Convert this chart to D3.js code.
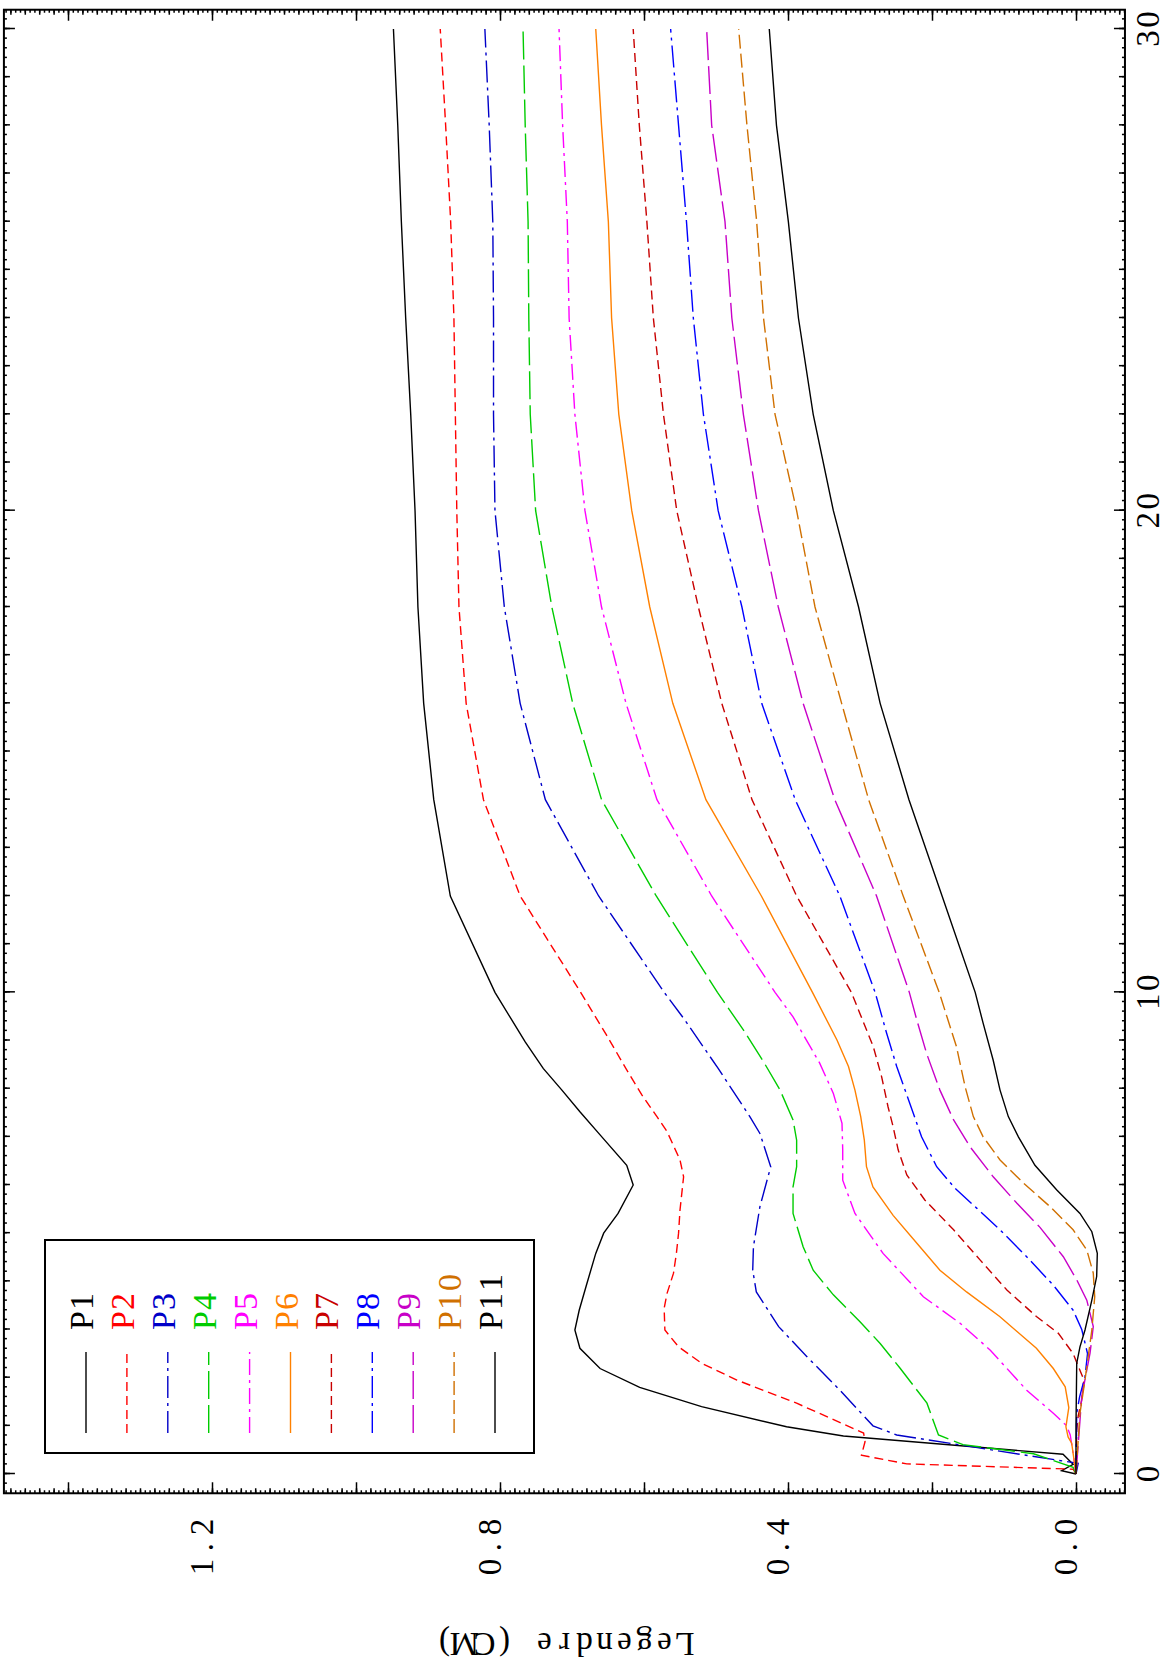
<!DOCTYPE html>
<html>
<head>
<meta charset="utf-8">
<script src="https://cdnjs.cloudflare.com/ajax/libs/d3/7.8.5/d3.min.js"></script>
<style>
body { margin: 0; background: #fff; }
text { font-family: "Liberation Serif", "DejaVu Serif", serif; }
</style>
</head>
<body>
<div id="main"></div>
<script>

var names = ["P1","P2","P3","P4","P5","P6","P7","P8","P9","P10","P11"];
var colors = ["#000000","#ff0000","#0000c8","#00cc00","#ff00ff","#ff8000","#c80000","#0000ff","#c800c8","#d07000","#000000"];
var dashes = [null,"9,5","22,5,3,5","28,6","16,5,3,5",null,"9,5","22,5,3,5","28,6","14,5",null];

var xTicks = [0,10,20,30];
var yTicks = [0.0,0.4,0.8,1.2];
var yTickLabels = ["0.0","0.4","0.8","1.2"];
var yTitle = "Legendre (CM)";

// [x, value] pairs
var p1 = [[0,0],[0.07,0.02],[0.2,0.004],[0.41,0.018],[0.79,0.323],[0.98,0.402],[1.4,0.52],[1.8,0.606],[2.19,0.661],[2.61,0.689],[2.99,0.696],[3.4,0.69],[3.92,0.68],[4.58,0.667],[5.0,0.656],[5.41,0.636],[6.0,0.615],[6.41,0.624],[7.04,0.661],[7.52,0.689],[7.97,0.714],[8.42,0.74],[8.97,0.765],[10,0.807],[12,0.869],[14,0.892],[16,0.906],[18,0.914],[20,0.918],[22,0.924],[24,0.931],[26,0.937],[28,0.942],[30,0.948]];
var p2 = [[0,0],[0.1,0.004],[0.21,0.235],[0.39,0.298],[0.67,0.293],[0.85,0.295],[1.47,0.388],[1.95,0.471],[2.3,0.52],[2.64,0.552],[2.99,0.571],[3.44,0.572],[3.75,0.568],[4.17,0.559],[4.58,0.555],[5.0,0.552],[5.48,0.55],[6.17,0.545],[6.52,0.55],[7.11,0.568],[7.42,0.582],[7.87,0.603],[8.39,0.624],[9.11,0.652],[10,0.688],[12,0.772],[14,0.823],[16,0.847],[18,0.857],[20,0.86],[22,0.862],[24,0.864],[26,0.8685],[28,0.8755],[30,0.883]];
var p3 = [[0,0],[0.22,-0.003],[0.81,0.249],[1.0,0.282],[1.74,0.328],[2.44,0.374],[3.06,0.413],[3.78,0.444],[4.23,0.449],[4.72,0.448],[5.55,0.439],[6.38,0.424],[7.07,0.439],[7.42,0.453],[8.42,0.497],[9.42,0.543],[10,0.572],[12,0.663],[14,0.737],[16,0.772],[18,0.794],[20,0.807],[22,0.809],[24,0.809],[26,0.81],[28,0.815],[30,0.821]];
var p4 = [[0,0],[0.14,0.004],[0.42,0.059],[0.61,0.157],[0.81,0.191],[1.47,0.207],[2.19,0.244],[2.71,0.272],[3.16,0.3],[3.72,0.337],[4.23,0.365],[4.72,0.379],[5.41,0.393],[5.96,0.393],[6.38,0.388],[6.93,0.388],[7.35,0.393],[7.97,0.411],[8.56,0.434],[9.22,0.462],[10,0.498],[12,0.583],[14,0.659],[16,0.699],[18,0.728],[20,0.7505],[22,0.758],[24,0.76],[26,0.761],[28,0.765],[30,0.768]];
var p5 = [[0,0],[0.43,0.004],[0.81,0.008],[1.0,0.013],[1.26,0.0315],[1.74,0.0685],[2.57,0.119],[3.13,0.161],[3.68,0.212],[4.58,0.268],[5.41,0.307],[6.1,0.324],[6.73,0.324],[7.28,0.325],[7.9,0.337],[8.53,0.356],[9.49,0.393],[10,0.418],[12,0.506],[14,0.582],[16,0.625],[18,0.659],[20,0.682],[22,0.696],[24,0.704],[26,0.7065],[28,0.713],[30,0.718]];
var p6 = [[0,0],[0.43,0.004],[0.64,0.006],[0.77,0.011],[0.98,0.014],[1.38,0.01],[1.81,0.015],[2.19,0.0315],[2.61,0.055],[3.27,0.106],[3.78,0.152],[4.23,0.189],[4.79,0.221],[5.37,0.254],[5.96,0.282],[6.38,0.291],[6.93,0.294],[7.42,0.299],[7.97,0.307],[8.46,0.316],[9.01,0.332],[10,0.366],[12,0.437],[14,0.514],[16,0.56],[18,0.592],[20,0.617],[22,0.635],[24,0.645],[26,0.6495],[28,0.659],[30,0.667]];
var p7 = [[0,0],[0.9,-0.001],[1.2,-0.003],[1.54,-0.008],[1.95,-0.011],[2.5,0.004],[2.92,0.0245],[3.27,0.055],[3.82,0.096],[4.44,0.133],[5.07,0.17],[5.69,0.21],[6.21,0.235],[6.73,0.247],[7.21,0.254],[7.62,0.261],[8.25,0.27],[8.87,0.2815],[10,0.312],[12,0.388],[14,0.45],[16,0.492],[18,0.5245],[20,0.5545],[22,0.573],[24,0.587],[26,0.596],[28,0.6065],[30,0.615]];
var p8 = [[0,0],[1.26,-0.001],[1.6,-0.005],[2.02,-0.0125],[2.5,-0.016],[3.0,-0.008],[3.4,0.004],[3.92,0.0315],[4.51,0.0685],[5.07,0.1055],[5.52,0.138],[5.93,0.168],[6.38,0.1935],[7.0,0.2145],[7.49,0.226],[8.46,0.249],[9.15,0.263],[10,0.279],[12,0.328],[14,0.39],[16,0.4365],[18,0.464],[20,0.497],[22,0.5175],[24,0.5315],[26,0.541],[28,0.552],[30,0.563]];
var p9 = [[0,0],[1.61,-0.008],[2.51,-0.0195],[3.06,-0.024],[3.61,-0.015],[4.03,-0.001],[4.51,0.0176],[5.12,0.05],[5.62,0.082],[6.17,0.115],[6.79,0.147],[7.35,0.17],[7.97,0.189],[8.73,0.2075],[9.42,0.221],[10,0.2315],[12,0.277],[14,0.335],[16,0.379],[18,0.4135],[20,0.441],[22,0.462],[24,0.478],[26,0.4875],[28,0.506],[30,0.513]];
var p10 = [[0,0],[1.26,-0.0055],[1.95,-0.0125],[2.99,-0.022],[3.68,-0.026],[4.17,-0.024],[4.65,-0.015],[5.07,0.004],[5.55,0.036],[6.04,0.073],[6.52,0.1055],[7.0,0.129],[7.42,0.1426],[8.04,0.154],[8.87,0.166],[10,0.19],[12,0.24],[14,0.288],[16,0.3255],[18,0.3625],[20,0.388],[22,0.418],[24,0.434],[26,0.4435],[28,0.457],[30,0.4685]];
var p11 = [[0,0],[1.0,0.0],[2.3,-0.001],[2.64,-0.0055],[2.99,-0.0125],[3.61,-0.022],[4.1,-0.0287],[4.58,-0.0296],[5.03,-0.022],[5.41,-0.0055],[5.9,0.027],[6.41,0.057],[7.0,0.08],[7.42,0.094],[7.97,0.1055],[8.59,0.115],[9.36,0.129],[10,0.14],[12,0.186],[14,0.232],[16,0.272],[18,0.302],[20,0.337],[22,0.365],[24,0.3855],[26,0.3995],[28,0.416],[30,0.426]];

var series = [p1,p2,p3,p4,p5,p6,p7,p8,p9,p10,p11];

var W = 1168, H = 1662;

var svg = d3.select('#main')
  .append('svg')
  .attr("width", W)
  .attr("height", H);

// plot is laid out landscape, then the whole page is turned a quarter
var g = svg.append('g')
  .attr('transform', 'translate(0,' + H + ')rotate(-90)');

var x = d3.scaleLinear().domain([0,30]).range([188,1633]);
var y = d3.scaleLinear().domain([0,1.2]).range([1076,212]);

var xMin = -0.4, xMax = 30.4, yMin = -0.068, yMax = 1.489;
var fx0 = x(xMin), fx1 = x(xMax), fy0 = y(yMin), fy1 = y(yMax);

// fixed-pitch text: every character centred in its own cell
function cells(str, start, cell) {
  return str.split('').map((c,i) => (start + cell*(i+0.5)).toFixed(1)).join(' ');
}

// ticks
function ticksX(vals, len) {
  var bot = d3.axisBottom(x).tickValues(vals).tickSize(-len).tickFormat("");
  var top = d3.axisTop(x).tickValues(vals).tickSize(-len).tickFormat("");
  var a = g.append('g').attr('transform', 'translate(0,' + fy0 + ')').call(bot);
  var b = g.append('g').attr('transform', 'translate(0,' + fy1 + ')').call(top);
  [a,b].forEach(s => {
    s.select('.domain').remove();
    s.selectAll('line').attr('stroke', '#000').attr('stroke-width', 1.5);
  });
}
function ticksY(vals, len) {
  var lft = d3.axisLeft(y).tickValues(vals).tickSize(-len).tickFormat("");
  var rgt = d3.axisRight(y).tickValues(vals).tickSize(-len).tickFormat("");
  var a = g.append('g').attr('transform', 'translate(' + fx0 + ',0)').call(lft);
  var b = g.append('g').attr('transform', 'translate(' + fx1 + ',0)').call(rgt);
  [a,b].forEach(s => {
    s.select('.domain').remove();
    s.selectAll('line').attr('stroke', '#000').attr('stroke-width', 1.5);
  });
}

ticksX(d3.range(-1, 152).map(i => i/5).filter(v => v > xMin && v < xMax), 3);
ticksX(d3.range(0, 31), 6);
ticksX(xTicks, 11);

ticksY(d3.range(-10, 224).map(i => i/150).filter(v => v > yMin && v < yMax), 3);
ticksY(d3.range(-3, 75).map(i => i/50).filter(v => v > yMin && v < yMax), 5);
ticksY(d3.range(0, 8).map(i => i/5).filter(v => v < yMax), 11);

// frame
g.append('rect')
  .attr('x', fx0).attr('y', fy1)
  .attr('width', fx1 - fx0).attr('height', fy0 - fy1)
  .attr('fill', 'none').attr('stroke', '#000').attr('stroke-width', 2);

// tick labels
g.selectAll('.xl')
  .data(xTicks)
  .enter()
  .append('text')
  .attr('class', 'xl')
  .attr('x', d => cells(String(d), x(d) - String(d).length*19/2, 19))
  .attr('y', 1159)
  .attr('text-anchor', 'middle')
  .style('font-size', '33px')
  .text(d => d);

g.selectAll('.yl')
  .data(yTicks)
  .enter()
  .append('text')
  .attr('class', 'yl')
  .attr('x', (d,i) => cells(yTickLabels[i], 145 - yTickLabels[i].length*20, 20))
  .attr('y', d => y(d) + 1)
  .attr('text-anchor', 'middle')
  .style('font-size', '33px')
  .text((d,i) => yTickLabels[i]);

g.append('text')
  .text(yTitle)
  .attr('transform', 'translate(29,' + ((fy0 + fy1) / 2) + ')rotate(-90)')
  .attr('x', cells(yTitle, -yTitle.length*20/2, 20))
  .attr('y', 0)
  .attr('text-anchor', 'middle')
  .style('font-size', '33px');

// curves
var line = d3.line().x(d => x(d[0])).y(d => y(d[1]));

g.selectAll('.curve')
  .data(series)
  .enter()
  .append('path')
  .attr('class', 'curve')
  .attr('d', line)
  .attr('fill', 'none')
  .attr('stroke', (d,i) => colors[i])
  .attr('stroke-width', 1.4)
  .attr('stroke-dasharray', (d,i) => dashes[i]);

// legend
var lg = g.append('g');
lg.append('rect')
  .attr('x', 209).attr('y', 45)
  .attr('width', 213).attr('height', 489)
  .attr('fill', '#fff').attr('stroke', '#000').attr('stroke-width', 2);

lg.selectAll('.ll')
  .data(names)
  .enter()
  .append('line')
  .attr('class', 'll')
  .attr('x1', 229).attr('x2', 310)
  .attr('y1', (d,i) => 86 + i*40.9)
  .attr('y2', (d,i) => 86 + i*40.9)
  .attr('stroke', (d,i) => colors[i])
  .attr('stroke-width', 1.4)
  .attr('stroke-dasharray', (d,i) => dashes[i]);

lg.selectAll('.lt')
  .data(names)
  .enter()
  .append('text')
  .attr('class', 'lt')
  .attr('x', d => cells(d, 332, 19))
  .attr('y', (d,i) => 93 + i*40.9)
  .attr('text-anchor', 'middle')
  .style('font-size', '34px')
  .attr('fill', (d,i) => colors[i])
  .text(d => d);

</script>
</body>
</html>
